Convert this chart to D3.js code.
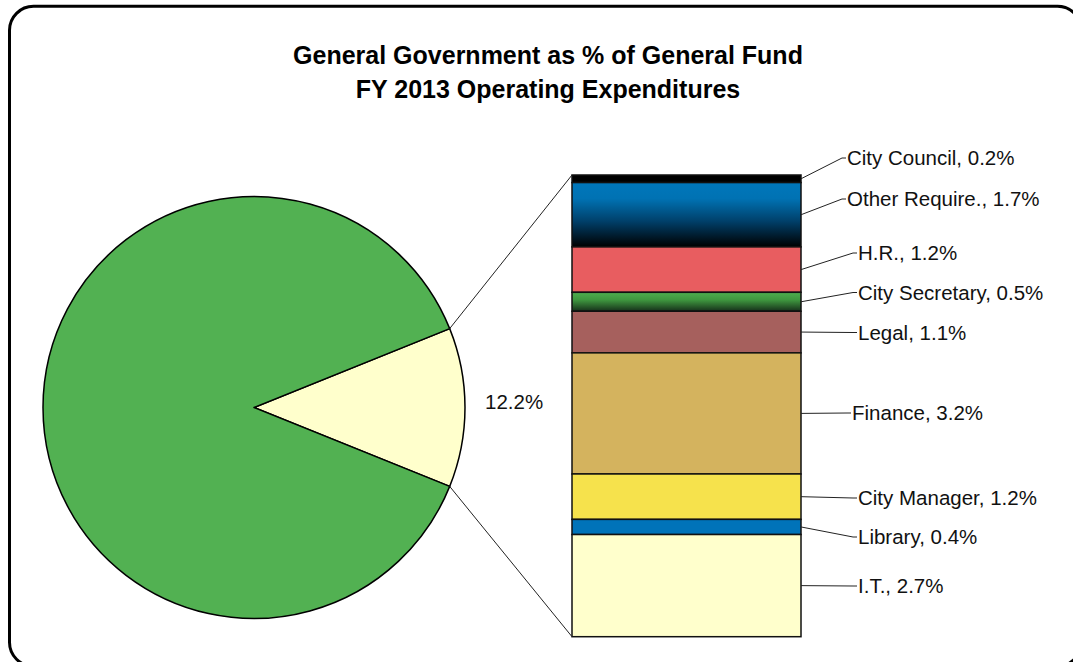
<!DOCTYPE html>
<html>
<head>
<meta charset="utf-8">
<script src="https://cdn.jsdelivr.net/npm/d3@7"></script>
<style>
  html, body { margin: 0; padding: 0; background: #fff; }
  svg { display: block; font-family: "Liberation Sans", Arial, sans-serif; }
</style>
</head>
<body>
<svg id="chart" width="1073" height="662"></svg>
<script>
// Share of General Fund operating expenditures (percent)
const pieCategories = ["General Government", "Other General Fund"];
const pieValues = [12.2, 87.8];
const pieLabels = ["12.2%", ""];

// Breakdown of General Government, stacked top to bottom
const barCategories = ["City Council", "Other Require.", "H.R.", "City Secretary", "Legal",
                       "Finance", "City Manager", "Library", "I.T."];
const barValues = [0.2, 1.7, 1.2, 0.5, 1.1, 3.2, 1.2, 0.4, 2.7];

const titleLines = ["General Government as % of General Fund", "FY 2013 Operating Expenditures"];

// Styling
const barFills = ["#000000", "url(#gradBlue)", "#e85d60", "url(#gradGreen)", "#a6605d",
                  "#d4b35e", "#f6e24c", "#0073b9", "#ffffcc"];
const pieFills = ["#ffffcc", "#52b152"];
// Label baseline-centre heights for the bar callouts
const labelY = [158, 199, 253, 292.5, 332.5, 413, 498, 537, 586];
const labelX = [847, 847, 858, 858, 858, 852, 858, 858, 858];

const svg = d3.select("#chart");
const defs = svg.append("defs");

const gBlue = defs.append("linearGradient").attr("id", "gradBlue")
  .attr("x1", 0).attr("y1", 0).attr("x2", 0).attr("y2", 1);
[[0, "#0077bb"], [0.25, "#0072b3"], [0.6, "#00406a"], [1, "#000000"]]
  .forEach(([o, c]) => gBlue.append("stop").attr("offset", o).attr("stop-color", c));

const gGreen = defs.append("linearGradient").attr("id", "gradGreen")
  .attr("x1", 0).attr("y1", 0).attr("x2", 0).attr("y2", 1);
[[0, "#4fae4f"], [0.4, "#3f973f"], [1, "#16301a"]]
  .forEach(([o, c]) => gGreen.append("stop").attr("offset", o).attr("stop-color", c));

// Outer rounded frame
svg.append("rect")
  .attr("x", 9.5).attr("y", 6.3)
  .attr("width", 1072).attr("height", 660)
  .attr("rx", 24).attr("ry", 24)
  .attr("fill", "#fff").attr("stroke", "#000").attr("stroke-width", 3);

// Title
svg.append("g").selectAll("text").data(titleLines).join("text")
  .attr("x", 548).attr("y", (d, i) => 64 + i * 34)
  .attr("text-anchor", "middle")
  .attr("font-size", 25).attr("font-weight", "bold").attr("fill", "#000")
  .text(d => d);

// Pie
const cx = 254, cy = 407.5, r = 211;
const total = d3.sum(pieValues);
const sliceAngle = pieValues[0] / total * 2 * Math.PI;
const pie = d3.pie().sort(null).value(d => d)
  .startAngle(Math.PI / 2 - sliceAngle / 2)
  .endAngle(Math.PI / 2 - sliceAngle / 2 + 2 * Math.PI);
const arcs = pie(pieValues);
const arc = d3.arc().innerRadius(0).outerRadius(r);

const pieG = svg.append("g").attr("transform", `translate(${cx},${cy})`);
pieG.selectAll("path").data(arcs).join("path")
  .attr("d", arc)
  .attr("fill", (d, i) => pieFills[i])
  .attr("stroke", "#000").attr("stroke-width", 1.5).attr("stroke-linejoin", "round");

svg.append("text")
  .attr("x", 485).attr("y", 402).attr("dy", "0.35em")
  .attr("font-size", 20.5).attr("fill", "#111")
  .text(pieLabels[0]);

// Stacked bar
const barX = 572, barW = 229;
const barTotal = d3.sum(barValues);
const y = d3.scaleLinear().domain([0, barTotal]).range([175, 636.7]);
const cum = barValues.map((v, i) => d3.sum(barValues.slice(0, i)));

const barG = svg.append("g");
barG.selectAll("rect").data(barValues).join("rect")
  .attr("x", barX)
  .attr("y", (d, i) => y(cum[i]))
  .attr("width", barW)
  .attr("height", (d, i) => y(cum[i] + d) - y(cum[i]))
  .attr("fill", (d, i) => barFills[i])
  .attr("stroke", "#111").attr("stroke-width", 1.5);

// Connectors from slice edges to the bar
const a0 = arcs[0].startAngle, a1 = arcs[0].endAngle;
const edge = a => [cx + r * Math.sin(a), cy - r * Math.cos(a)];
const [p0, p1] = [edge(a0), edge(a1)];
svg.append("line").attr("x1", p0[0]).attr("y1", p0[1]).attr("x2", barX).attr("y2", y(0))
  .attr("stroke", "#222").attr("stroke-width", 1);
svg.append("line").attr("x1", p1[0]).attr("y1", p1[1]).attr("x2", barX).attr("y2", y(barTotal))
  .attr("stroke", "#222").attr("stroke-width", 1);

// Callout labels
const lab = svg.append("g");
barValues.forEach((v, i) => {
  const my = y(cum[i] + v / 2);
  lab.append("polyline")
    .attr("points", [[barX + barW, my], [labelX[i] - 5, labelY[i]], [labelX[i] - 1, labelY[i]]].join(" "))
    .attr("fill", "none").attr("stroke", "#222").attr("stroke-width", 1);
  lab.append("text")
    .attr("x", labelX[i]).attr("y", labelY[i]).attr("dy", "0.35em")
    .attr("font-size", 20.5).attr("fill", "#111")
    .text(`${barCategories[i]}, ${v.toFixed(1)}%`);
});
</script>
</body>
</html>
